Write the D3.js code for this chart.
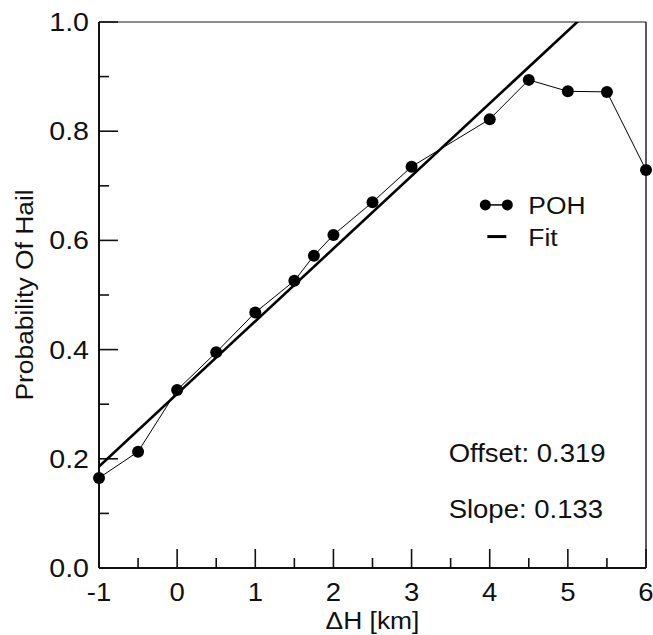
<!DOCTYPE html>
<html>
<head>
<meta charset="utf-8">
<script src="https://cdn.jsdelivr.net/npm/d3@7"></script>
<style>
  body { margin: 0; background: #fff; }
  text { font-family: "Liberation Sans", Arial, sans-serif; fill: #111; }
</style>
</head>
<body>
<div id="chart"></div>
<script>
// Data
const deltaH = [-1, -0.5, 0, 0.5, 1, 1.5, 1.75, 2, 2.5, 3, 4, 4.5, 5, 5.5, 6];
const poh = [0.165, 0.213, 0.326, 0.395, 0.468, 0.526, 0.572, 0.61, 0.67, 0.735, 0.822, 0.894, 0.873, 0.872, 0.729];
const fitOffset = 0.319;
const fitSlope = 0.133;
const xTicks = [-1, 0, 1, 2, 3, 4, 5, 6];
const yTicks = [0, 0.2, 0.4, 0.6, 0.8, 1.0];

const width = 653, height = 635;
const margin = { top: 22, right: 7, bottom: 67, left: 99 };
const innerW = width - margin.left - margin.right;
const innerH = height - margin.top - margin.bottom;

// the original lettering is a bit wider than Arial
const stretch = 1.1;

const x = d3.scaleLinear().domain([-1, 6]).range([0, innerW]);
const y = d3.scaleLinear().domain([0, 1]).range([innerH, 0]);

const svg = d3.select("#chart").append("svg")
    .attr("width", width)
    .attr("height", height);

const g = svg.append("g")
    .attr("transform", `translate(${margin.left},${margin.top})`);

svg.append("defs").append("clipPath").attr("id", "plot")
  .append("rect").attr("width", innerW).attr("height", innerH);

// put a text at (tx, ty), widened horizontally
function label(parent, tx, ty, str, size, anchor) {
  return parent.append("g")
      .attr("transform", `translate(${tx},${ty}) scale(${stretch},1)`)
    .append("text")
      .attr("text-anchor", anchor || "start")
      .style("font-size", size + "px")
      .text(str);
}

// frame: top and right thin grey, left and bottom as axes
g.append("line").attr("x1", 0).attr("x2", innerW).attr("y1", 0).attr("y2", 0)
    .attr("stroke", "#666").attr("stroke-width", 1.3);
g.append("line").attr("x1", innerW).attr("x2", innerW).attr("y1", 0).attr("y2", innerH)
    .attr("stroke", "#222").attr("stroke-width", 1.5);

// x axis, ticks pointing inward
const xAxis = g.append("g").attr("transform", `translate(0,${innerH})`);
xAxis.append("line").attr("x1", 0).attr("x2", innerW)
    .attr("stroke", "#111").attr("stroke-width", 2);
xAxis.selectAll(".minor").data(d3.range(-0.5, 6, 1)).join("line")
    .attr("x1", d => x(d)).attr("x2", d => x(d)).attr("y1", 0).attr("y2", -10)
    .attr("stroke", "#111").attr("stroke-width", 1.6);
xAxis.selectAll(".major").data(xTicks).join("line")
    .attr("x1", d => x(d)).attr("x2", d => x(d)).attr("y1", 0).attr("y2", -19)
    .attr("stroke", "#111").attr("stroke-width", 1.6);
xTicks.forEach(d => label(xAxis, x(d), 33, d, 25, "middle"));

// y axis
const yAxis = g.append("g");
yAxis.append("line").attr("y1", 0).attr("y2", innerH)
    .attr("stroke", "#111").attr("stroke-width", 2);
yAxis.selectAll(".minor").data(d3.range(0.1, 1, 0.2)).join("line")
    .attr("y1", d => y(d)).attr("y2", d => y(d)).attr("x1", 0).attr("x2", 10)
    .attr("stroke", "#111").attr("stroke-width", 1.6);
yAxis.selectAll(".major").data(yTicks).join("line")
    .attr("y1", d => y(d)).attr("y2", d => y(d)).attr("x1", 0).attr("x2", 19)
    .attr("stroke", "#111").attr("stroke-width", 1.6);
yTicks.forEach(d => label(yAxis, -10, y(d) + 9, d3.format(".1f")(d), 26, "end"));

// axis titles
label(g, innerW / 2, innerH + 61, "ΔH [km]", 24, "middle");
g.append("text")
    .attr("transform", `translate(${-66},${innerH / 2}) rotate(-90) scale(${stretch},1)`)
    .attr("text-anchor", "middle")
    .style("font-size", "24px")
    .text("Probability Of Hail");

// fit line
const plot = g.append("g").attr("clip-path", "url(#plot)");
plot.append("line")
    .attr("x1", x(-1)).attr("y1", y(fitOffset - fitSlope))
    .attr("x2", x(6)).attr("y2", y(fitOffset + 6 * fitSlope))
    .attr("stroke", "#000").attr("stroke-width", 2.6);

// POH line and points
const line = d3.line().x((d, i) => x(deltaH[i])).y(d => y(d));
g.append("path").datum(poh)
    .attr("d", line)
    .attr("fill", "none").attr("stroke", "#000").attr("stroke-width", 1);
g.selectAll(".pt").data(poh).join("circle")
    .attr("cx", (d, i) => x(deltaH[i])).attr("cy", d => y(d))
    .attr("r", 6).attr("fill", "#000");

// legend
const leg = g.append("g").attr("transform", `translate(${x(4.2) - 20},0)`);
leg.append("line").attr("x1", 0).attr("x2", 22).attr("y1", y(0.665)).attr("y2", y(0.665))
    .attr("stroke", "#000").attr("stroke-width", 1.5);
leg.selectAll("circle").data([0, 22]).join("circle")
    .attr("cx", d => d).attr("cy", y(0.665)).attr("r", 5.5).attr("fill", "#000");
label(leg, 43, y(0.665) + 9, "POH", 24);
leg.append("line").attr("x1", 2).attr("x2", 21).attr("y1", y(0.607)).attr("y2", y(0.607))
    .attr("stroke", "#000").attr("stroke-width", 3);
label(leg, 43, y(0.607) + 9, "Fit", 24);

// fit parameters
label(g, x(3.5) - 2, 440, "Offset: " + fitOffset.toFixed(3), 25);
label(g, x(3.5) - 2, 496, "Slope: " + fitSlope.toFixed(3), 25);
</script>
</body>
</html>
